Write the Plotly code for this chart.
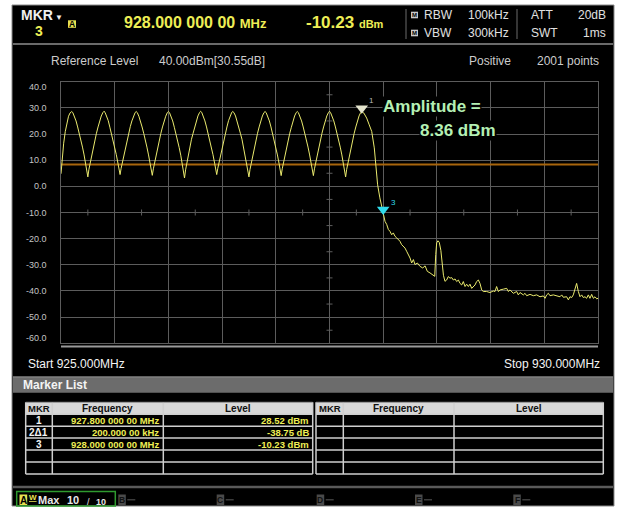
import plotly.graph_objects as go

W, H = 617, 509

# ---------------- data ----------------
start_freq_mhz = [925.000, 925.010, 925.025, 925.040, 925.055, 925.070, 925.085]
start_level_dbm = [4.8, 10.5, 16.5, 21.0, 24.5, 26.8, 28.1]

lobe_freq_mhz = [
    925.100, 925.110, 925.125, 925.140, 925.155, 925.170, 925.185, 925.200, 925.215, 925.230, 925.240,
    925.250, 925.260, 925.270, 925.285, 925.300, 925.315, 925.330, 925.345, 925.360, 925.375, 925.390,
    925.400, 925.410, 925.425, 925.440, 925.455, 925.470, 925.485, 925.500, 925.515, 925.530, 925.540,
    925.550, 925.560, 925.570, 925.585, 925.600, 925.615, 925.630, 925.645, 925.660, 925.675, 925.690,
    925.700, 925.710, 925.725, 925.740, 925.755, 925.770, 925.785, 925.800, 925.815, 925.830, 925.840,
    925.850, 925.860, 925.870, 925.885, 925.900, 925.915, 925.930, 925.945, 925.960, 925.975, 925.990,
    926.000, 926.010, 926.025, 926.040, 926.055, 926.070, 926.085, 926.100, 926.115, 926.130, 926.140,
    926.150, 926.160, 926.170, 926.185, 926.200, 926.215, 926.230, 926.245, 926.260, 926.275, 926.290,
    926.300, 926.310, 926.325, 926.340, 926.355, 926.370, 926.385, 926.400, 926.415, 926.430, 926.440,
    926.450, 926.460, 926.470, 926.485, 926.500, 926.515, 926.530, 926.545, 926.560, 926.575, 926.590,
    926.600, 926.610, 926.625, 926.640, 926.655, 926.670, 926.685, 926.700, 926.715, 926.730, 926.740,
    926.750, 926.760, 926.770, 926.785, 926.800, 926.815, 926.830, 926.845, 926.860, 926.875, 926.890,
    926.900, 926.910, 926.925, 926.940, 926.955, 926.970, 926.985, 927.000, 927.015, 927.030, 927.040,
    927.050, 927.060, 927.070, 927.085, 927.100, 927.115, 927.130, 927.145, 927.160, 927.175, 927.190,
    927.200, 927.210, 927.225, 927.240, 927.255, 927.270, 927.285, 927.300, 927.315, 927.330, 927.340,
    927.350, 927.360, 927.370, 927.385, 927.400, 927.415, 927.430, 927.445, 927.460, 927.475, 927.490,
    927.500, 927.510, 927.525, 927.540, 927.555, 927.570, 927.585, 927.600, 927.615, 927.630, 927.640,
    927.650, 927.660, 927.670, 927.685, 927.700, 927.715, 927.730, 927.745, 927.760, 927.775, 927.790,
]
lobe_level_dbm = [
    28.6, 28.2, 26.9, 25.0, 22.7, 20.3, 18.0, 15.0, 12.0, 8.7, 6.5,
    3.6, 6.5, 8.7, 12.0, 15.0, 18.0, 20.3, 22.7, 25.0, 26.9, 28.2,
    28.7, 28.3, 26.9, 25.1, 22.6, 20.2, 17.9, 15.1, 12.1, 8.9, 6.9,
    4.5, 6.9, 8.9, 12.1, 15.0, 18.0, 20.4, 22.8, 25.0, 26.9, 28.2,
    28.6, 28.2, 26.8, 25.0, 22.7, 20.3, 18.0, 15.0, 12.0, 8.8, 6.7,
    4.2, 6.7, 8.8, 12.0, 15.1, 18.1, 20.3, 22.7, 25.0, 26.8, 28.2,
    28.6, 28.2, 26.9, 25.0, 22.6, 20.2, 17.9, 14.9, 11.9, 8.6, 6.3,
    3.2, 6.3, 8.6, 11.9, 15.0, 18.0, 20.3, 22.7, 25.0, 26.9, 28.2,
    28.7, 28.3, 26.9, 25.0, 22.7, 20.3, 18.0, 15.0, 12.1, 8.9, 6.9,
    4.5, 6.9, 8.9, 12.1, 15.0, 18.0, 20.3, 22.7, 25.1, 26.9, 28.3,
    28.6, 28.2, 26.9, 25.0, 22.7, 20.3, 18.0, 15.0, 12.0, 8.7, 6.5,
    3.6, 6.5, 8.7, 12.0, 15.0, 18.0, 20.3, 22.7, 25.0, 26.9, 28.2,
    28.6, 28.2, 26.8, 25.0, 22.7, 20.2, 17.9, 15.0, 12.0, 8.8, 6.7,
    4.1, 6.7, 8.8, 12.0, 15.0, 18.0, 20.3, 22.6, 25.0, 26.9, 28.2,
    28.6, 28.2, 26.9, 25.0, 22.7, 20.3, 18.0, 15.0, 12.0, 8.8, 6.7,
    4.1, 6.7, 8.8, 12.0, 15.0, 18.0, 20.3, 22.7, 25.0, 26.9, 28.2,
    28.7, 28.2, 26.9, 25.0, 22.7, 20.3, 18.0, 15.0, 12.0, 8.7, 6.5,
    3.6, 6.5, 8.7, 12.0, 15.0, 18.0, 20.3, 22.7, 25.0, 26.9, 28.2,
]

edge_freq_mhz = [927.800, 927.820, 927.846, 927.870, 927.893, 927.917, 927.930, 927.948, 927.969, 927.991, 928.000]
edge_level_dbm = [28.6, 28.0, 26.1, 23.5, 21.0, 14.7, 8.9, 0.6, -4.4, -8.3, -10.2]

tail_freq_mhz = [
    928.017, 928.033, 928.048, 928.063, 928.079, 928.094, 928.110, 928.126, 928.141, 928.156,
    928.172, 928.187, 928.203, 928.218, 928.234, 928.250, 928.265, 928.281, 928.296, 928.318,
    928.343, 928.368, 928.390, 928.411, 928.436, 928.461, 928.480, 928.489, 928.498, 928.510,
    928.522, 928.537, 928.550, 928.561, 928.575,
    928.591, 928.606, 928.622, 928.638, 928.653, 928.669, 928.684, 928.700, 928.715, 928.731,
    928.746, 928.762, 928.777, 928.793, 928.808, 928.824, 928.839, 928.855, 928.870, 928.886,
    928.901, 928.917, 928.932, 928.963, 928.994, 929.025, 929.041, 929.056, 929.072, 929.088,
    929.119, 929.150, 929.165, 929.181, 929.212, 929.243, 929.258, 929.274, 929.305, 929.320,
    929.336, 929.367, 929.398, 929.429, 929.460, 929.491, 929.507, 929.522, 929.538, 929.553,
    929.584, 929.615, 929.646, 929.662, 929.677, 929.708, 929.724, 929.739, 929.755, 929.770,
    929.786, 929.801, 929.817, 929.832, 929.848, 929.863, 929.879, 929.894, 929.910, 929.925,
    929.941, 929.957, 929.972, 929.988, 930.000,
]
tail_level_dbm = [
    -13.4, -14.6, -16.5, -17.2, -18.5, -17.8, -19.1, -19.7, -20.4, -21.0,
    -22.3, -22.9, -23.6, -24.8, -26.1, -27.4, -29.3, -28.0, -29.9, -29.3,
    -30.6, -31.2, -30.4, -32.5, -33.1, -33.7, -34.4, -26.1, -21.6, -20.8,
    -21.4, -24.5, -30.0, -34.0, -36.3,
    -35.8, -34.5, -35.1, -34.9, -35.8, -35.4, -36.4, -35.8, -37.1, -37.7,
    -36.4, -38.3, -37.4, -38.3, -37.4, -39.0, -38.3, -37.7, -36.4, -35.8,
    -37.1, -39.6, -40.2, -40.2, -40.6, -40.0, -40.2, -38.3, -40.2, -39.6,
    -39.3, -39.0, -40.2, -39.6, -40.9, -40.2, -41.5, -40.6, -41.5, -40.9,
    -41.8, -41.3, -41.8, -41.5, -42.2, -41.9, -42.8, -41.5, -40.9, -41.8,
    -41.5, -41.8, -42.2, -41.5, -42.4, -42.2, -43.4, -42.2, -42.5, -41.5,
    -39.6, -37.1, -40.2, -42.2, -41.5, -42.5, -42.2, -42.8, -41.5, -42.8,
    -41.3, -42.8, -42.2, -43.0, -42.8,
]

freq_grid_mhz = [925.0, 925.5, 926.0, 926.5, 927.0, 927.5, 928.0, 928.5, 929.0, 929.5, 930.0]
level_ticks_dbm = [40, 30, 20, 10, 0, -10, -20, -30, -40, -50, -60]
level_tick_labels = ["40.0", "30.0", "20.0", "10.0", "0.0", "-10.0", "-20.0", "-30.0", "-40.0", "-50.0", "-60.0"]
center_freq_mhz = 927.5
center_level_dbm = -10
display_line_dbm = 8.36

marker_freq_mhz = [927.8, 928.0]
marker_level_dbm = [28.52, -10.23]
marker_names = ["1", "3"]
marker_colors = ["#e4e4cc", "#30dcec"]

table_mkr = ["1", "2\u03941", "3"]
table_freq = ["927.800 000 00 MHz", "200.000 00 kHz", "928.000 000 00 MHz"]
table_level = ["28.52 dBm", "-38.75 dB", "-10.23 dBm"]

# ---------------- geometry (pixels) ----------------
PL, PR, PT, PB = 61, 598, 81.7, 343.3
BASE = "Liberation Sans, Arial, sans-serif"

def fx(x):
    return x / W

def fy(y):
    return 1 - y / H

shapes = []
annotations = []

def rect(x0, y0, x1, y1, fill=None, line=None, width=1, layer="below"):
    shapes.append(dict(type="rect", xref="paper", yref="paper", x0=fx(x0), x1=fx(x1), y0=fy(y0), y1=fy(y1),
                       fillcolor=fill if fill else "rgba(0,0,0,0)",
                       line=dict(color=line if line else "rgba(0,0,0,0)", width=width if line else 0),
                       layer=layer))

def seg(x0, y0, x1, y1, color, width=1, layer="below"):
    shapes.append(dict(type="line", xref="paper", yref="paper", x0=fx(x0), x1=fx(x1), y0=fy(y0), y1=fy(y1),
                       line=dict(color=color, width=width), layer=layer))

def text(x, y, s, size=12, color="#e0e0e0", xanchor="left", family=BASE, bg=None):
    a = dict(xref="paper", yref="paper", x=fx(x), y=fy(y), text=s, showarrow=False,
             xanchor=xanchor, yanchor="middle", font=dict(size=size, color=color, family=family), borderpad=0)
    if bg:
        a["bgcolor"] = bg
    annotations.append(a)

# screen frame
rect(0, 0, W, H, fill="white")
rect(12, 5, 614, 506, fill="black", line="#8a8a8a", width=1)
seg(13, 44, 613, 44, "#6a6a6a", 2)

# header
text(20, 15, "<b>MKR</b><span style='font-size:8px'> \u25bc</span>", size=14, color="#f0f0f0")
text(39, 31, "<b>3</b>", size=14, color="#eeee55", xanchor="center")
rect(68.0, 20.3, 76.0, 27.8, fill="#e6e050")
text(72, 24.1, "<b>A</b>", size=8.5, color="black", xanchor="center")
text(123, 22, "<b>928.000 000 00 <span style='font-size:13px'>MHz</span></b>", size=16, color="#eeee55")
text(305, 22, "<b>-10.23 <span style='font-size:11px'>dBm</span></b>", size=17, color="#eeee55")
seg(406, 9, 406, 39, "#6a6a6a", 1)
seg(517, 9, 517, 39, "#6a6a6a", 1)
for yy in (15, 33):
    rect(411.0, yy - 3.3, 418.0, yy + 3.3, fill="#c8c8c8")
    text(414.5, yy, "<b>M</b>", size=6, color="black", xanchor="center")
text(422.5, 15, "RBW", size=12, color="#e0e0e0")
text(422.5, 33, "VBW", size=12, color="#e0e0e0")
text(466.5, 15, "100kHz", size=12, color="#e0e0e0")
text(466.5, 33, "300kHz", size=12, color="#e0e0e0")
text(530, 15, "ATT", size=12, color="#e0e0e0")
text(530, 33, "SWT", size=12, color="#e0e0e0")
text(607, 15, "20dB", size=12, color="#e0e0e0", xanchor="right")
text(607, 33, "1ms", size=12, color="#e0e0e0", xanchor="right")

# second row
text(50, 61, "Reference Level", size=12, color="#cccccc")
text(158, 61, "40.00dBm[30.55dB]", size=12, color="#cccccc")
text(468, 61, "Positive", size=12, color="#cccccc")
text(600, 61, "2001 points", size=12, color="#cccccc", xanchor="right")

# y labels through the level axis
for v, lab in zip(level_ticks_dbm, level_tick_labels):
    shift = -5 if v == max(level_ticks_dbm) else (5 if v == min(level_ticks_dbm) else 0)
    annotations.append(dict(xref="paper", yref="y", x=fx(48.5), y=v, yshift=shift, text=lab, showarrow=False,
                            xanchor="right", yanchor="middle",
                            font=dict(size=9, color="#c4c4c4", family=BASE)))

# bottom double line under the grid
rect(PL, 345.6, PR, 347.6, fill="#9a9a9a")

# start / stop
text(26.5, 364.3, "Start 925.000MHz", size=12, color="#f4f4f4")
text(601, 364.3, "Stop 930.000MHz", size=12, color="#f4f4f4", xanchor="right")

# marker list bar
rect(13, 376.5, 613, 392.7, fill="#6c6c6c")
seg(13, 377, 613, 377, "#8c8c8c", 1)
text(21.5, 384.6, "<b>Marker List</b>", size=12, color="#f4f4f4")

# tables
row_y = [402.3, 414.3, 426.2, 438.1, 450.0, 462.0, 474.0]
tables = [(25.7, 52.3, 163.3, 312.7), (316.0, 343.3, 454.0, 603.3)]
for (x0, d1, d2, x1) in tables:
    rect(x0, row_y[0], x1, row_y[1], fill="#d8d8d8")
    for yy in row_y[1:]:
        seg(x0, yy, x1, yy, "#cfcfcf", 1.5)
    for xx in (x0, d1, d2, x1):
        seg(xx, row_y[0], xx, row_y[-1], "#cfcfcf", 1.5)
    seg(x0, row_y[0], x1, row_y[0], "#9a9a9a", 1)
    text((x0 + d1) / 2, 408.5, "<b>MKR</b>", size=9.5, color="#111111", xanchor="center")
    text((d1 + d2) / 2, 408.5, "<b>Frequency</b>", size=10, color="#111111", xanchor="center")
    text((d2 + x1) / 2, 408.5, "<b>Level</b>", size=10, color="#111111", xanchor="center")

lx0, ld1, ld2, lx1 = tables[0]
for i, (m, f, l) in enumerate(zip(table_mkr, table_freq, table_level)):
    yc = (row_y[i + 1] + row_y[i + 2]) / 2 + 0.3
    text((lx0 + ld1) / 2, yc, "<b>" + m + "</b>", size=10, color="#f4f4f4", xanchor="center")
    text(ld2 - 3, yc, "<b>" + f + "</b>", size=9.5, color="#eeee55", xanchor="right")
    text(lx1 - 2.5, yc, "<b>" + l + "</b>", size=9.5, color="#eeee55", xanchor="right")

# bottom separator and trace bar
seg(13, 487, 613, 487, "#5a5a5a", 2.5)
rect(16.7, 491.5, 115.3, 506, line="#2f9a2f", width=1.5)
rect(19.5, 494.5, 27.2, 505, fill="#e6e050")
text(23.35, 500, "<b>A</b>", size=10, color="black", xanchor="center")
text(27.8, 497.5, "<b><u>W</u></b>", size=8, color="#e6e050")
text(37, 500, "<b>Max</b>", size=11, color="#e8e8e8")
text(66, 500, "<b>10</b>", size=11, color="#e8e8e8")
text(86, 501.5, "/", size=9, color="#e8e8e8")
text(95, 501.5, "<b>10</b>", size=9, color="#e8e8e8")
for lx, letter in zip([118.3, 216.7, 316.7, 415.0, 513.3], ["B", "C", "D", "E", "F"]):
    rect(lx, 494.5, lx + 7.5, 505, fill="#4a4a4a")
    text(lx + 3.75, 500, "<b>" + letter + "</b>", size=8.5, color="#111111", xanchor="center")
    seg(lx + 9, 499.8, lx + 17, 499.8, "#4a4a4a", 1.2)

# minor ticks on the centre lines (from axis values)
for i in range(len(level_ticks_dbm) - 1):
    mid = (level_ticks_dbm[i] + level_ticks_dbm[i + 1]) / 2
    shapes.append(dict(type="line", xref="x", yref="y", xsizemode="pixel", xanchor=center_freq_mhz,
                       x0=-3, x1=3, y0=mid, y1=mid, line=dict(color="#5e5e5e", width=1), layer="below"))
for i in range(len(freq_grid_mhz) - 1):
    mid = (freq_grid_mhz[i] + freq_grid_mhz[i + 1]) / 2
    shapes.append(dict(type="line", xref="x", yref="y", ysizemode="pixel", yanchor=center_level_dbm,
                       y0=-3, y1=3, x0=mid, x1=mid, line=dict(color="#5e5e5e", width=1), layer="below"))

# ---------------- traces ----------------
freq = start_freq_mhz + lobe_freq_mhz + edge_freq_mhz + tail_freq_mhz
level = start_level_dbm + lobe_level_dbm + edge_level_dbm + tail_level_dbm

fig = go.Figure()
fig.add_trace(go.Scatter(x=[freq_grid_mhz[0], freq_grid_mhz[-1]], y=[display_line_dbm, display_line_dbm],
                         mode="lines", line=dict(color="#a8650c", width=2), hoverinfo="skip"))
fig.add_trace(go.Scatter(x=freq, y=level, mode="lines", line=dict(color="#eaea6e", width=1), hoverinfo="skip"))

px_per_db = (PB - PT) / (level_ticks_dbm[0] - level_ticks_dbm[-1])
tri_lift = 3.5 / px_per_db
fig.add_trace(go.Scatter(x=marker_freq_mhz, y=[v + tri_lift for v in marker_level_dbm], mode="markers",
                         marker=dict(symbol="triangle-down", size=11, color=marker_colors, line=dict(width=0)),
                         hoverinfo="skip"))
for f, v, n, c in zip(marker_freq_mhz, marker_level_dbm, marker_names, marker_colors):
    annotations.append(dict(xref="x", yref="y", x=f, y=v, xshift=10, yshift=11, text=n, showarrow=False,
                            font=dict(size=8, color="#b8b8b8" if n == "1" else c, family=BASE)))

# amplitude read-out
text(381.5, 106.7, "<b>Amplitude =</b>", size=17, color="#b4f0b4", bg="black")
text(419.3, 130.2, "<b>%.2f dBm</b>" % display_line_dbm, size=17, color="#b4f0b4", bg="black")

grid = "#5c5c5c"
fig.update_layout(
    width=W, height=H, margin=dict(l=0, r=0, t=0, b=0),
    paper_bgcolor="white", plot_bgcolor="black", showlegend=False,
    font=dict(family=BASE),
    xaxis=dict(domain=[fx(PL), fx(PR)], range=[freq_grid_mhz[0], freq_grid_mhz[-1]], tickvals=freq_grid_mhz,
               showticklabels=False, ticks="", showgrid=True, gridcolor=grid, gridwidth=1, zeroline=False,
               showline=True, linecolor=grid, linewidth=1, mirror=True, fixedrange=True),
    yaxis=dict(domain=[fy(PB), fy(PT)], range=[level_ticks_dbm[-1], level_ticks_dbm[0]], tickvals=level_ticks_dbm,
               showticklabels=False, ticks="", showgrid=True, gridcolor=grid, gridwidth=1, zeroline=False,
               showline=True, linecolor=grid, linewidth=1, mirror=True, fixedrange=True),
    shapes=shapes, annotations=annotations,
)
fig.write_html("out.html", config={"displayModeBar": False},
               post_script="document.body.style.margin='0';document.body.style.overflow='hidden';")
